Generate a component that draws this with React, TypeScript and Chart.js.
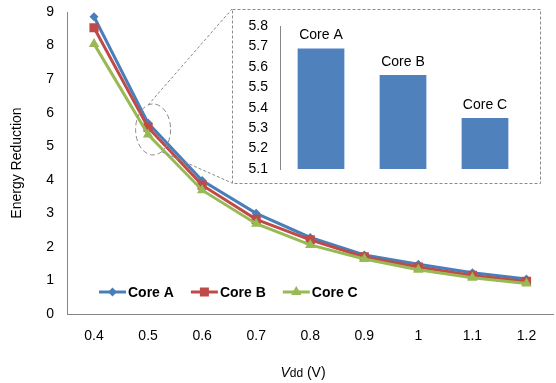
import React, { useEffect, useRef } from 'react';
import { Chart, registerables } from 'chart.js';

Chart.register(...registerables);

const vddLabels = ['0.4', '0.5', '0.6', '0.7', '0.8', '0.9', '1', '1.1', '1.2'];
const coreA = [8.86, 5.69, 3.98, 3.0, 2.28, 1.76, 1.48, 1.23, 1.04];
const coreB = [8.53, 5.56, 3.84, 2.82, 2.21, 1.7, 1.4, 1.15, 0.97];
const coreC = [8.05, 5.35, 3.69, 2.69, 2.06, 1.64, 1.32, 1.08, 0.91];
const seriesNames = ['Core A', 'Core B', 'Core C'];
const insetCategories = ['Core A', 'Core B', 'Core C'];
const insetValues = [5.69, 5.56, 5.35];

const FONT = "'Liberation Sans', Arial, sans-serif";
const COLORS = ['#4A7EBB', '#BE4B48', '#98B954'];
const AXIS = '#868686';
const BOX = { x: 232, y: 9, w: 308, h: 174 };

function drawMarker(ctx: CanvasRenderingContext2D, kind: number, x: number, y: number, color: string) {
  ctx.save();
  ctx.fillStyle = color;
  ctx.beginPath();
  if (kind === 0) {
    const r = 4.5;
    ctx.moveTo(x, y - r);
    ctx.lineTo(x + r, y);
    ctx.lineTo(x, y + r);
    ctx.lineTo(x - r, y);
  } else if (kind === 1) {
    const s = 4.5;
    ctx.rect(x - s, y - s, 2 * s, 2 * s);
  } else {
    const r = 6;
    ctx.moveTo(x, y - r);
    ctx.lineTo(x + r * 0.866, y + r * 0.5);
    ctx.lineTo(x - r * 0.866, y + r * 0.5);
  }
  ctx.closePath();
  ctx.fill();
  ctx.restore();
}

const mainDecor = {
  id: 'mainDecor',
  afterDatasetsDraw(chart: any) {
    const ctx: CanvasRenderingContext2D = chart.ctx;
    const xs = chart.scales.x;
    const ys = chart.scales.y;
    const area = chart.chartArea;
    const cx = xs.getPixelForValue(1) + 5;
    const cy = ys.getPixelForValue(5.5);
    const rx = 17.5, ry = 25.5;
    ctx.save();
    ctx.strokeStyle = '#8a8a8a';
    ctx.lineWidth = 1;
    ctx.setLineDash([5, 3]);
    ctx.beginPath();
    ctx.ellipse(cx, cy, rx, ry, 0, 0, Math.PI * 2);
    ctx.stroke();
    ctx.setLineDash([3, 2]);
    ctx.beginPath();
    ctx.moveTo(cx - 5, cy - ry + 1);
    ctx.lineTo(BOX.x, BOX.y);
    ctx.moveTo(cx + 9, cy + ry - 3);
    ctx.lineTo(BOX.x, BOX.y + BOX.h);
    ctx.stroke();
    ctx.setLineDash([]);
    ctx.fillStyle = '#ffffff';
    ctx.fillRect(BOX.x, BOX.y, BOX.w, BOX.h);
    ctx.setLineDash([3, 2]);
    ctx.strokeStyle = '#8a8a8a';
    ctx.strokeRect(BOX.x + 0.5, BOX.y + 0.5, BOX.w, BOX.h);
    ctx.restore();

    ctx.save();
    ctx.font = `bold 14px ${FONT}`;
    ctx.textBaseline = 'middle';
    ctx.textAlign = 'left';
    let lx = area.left + 32;
    const ly = area.bottom - 22;
    seriesNames.forEach((name, i) => {
      ctx.strokeStyle = COLORS[i];
      ctx.lineWidth = 3;
      ctx.beginPath();
      ctx.moveTo(lx, ly);
      ctx.lineTo(lx + 27, ly);
      ctx.stroke();
      drawMarker(ctx, i, lx + 13.5, ly, COLORS[i]);
      ctx.fillStyle = '#000';
      ctx.fillText(name, lx + 29, ly + 1);
      lx += 29 + ctx.measureText(name).width + 17;
    });
    ctx.restore();
  },
  afterDraw(chart: any) {
    const ctx: CanvasRenderingContext2D = chart.ctx;
    const area = chart.chartArea;
    ctx.save();
    ctx.fillStyle = '#000';
    ctx.font = `14px ${FONT}`;
    ctx.textAlign = 'center';
    ctx.textBaseline = 'middle';
    ctx.translate(17, (area.top + area.bottom) / 2);
    ctx.rotate(-Math.PI / 2);
    ctx.fillText('Energy Reduction', 0, 0);
    ctx.restore();
    ctx.save();
    ctx.fillStyle = '#000';
    ctx.textBaseline = 'alphabetic';
    ctx.textAlign = 'left';
    const parts = [
      { t: 'V', f: `italic 14px ${FONT}` },
      { t: 'dd', f: `12px ${FONT}` },
      { t: ' (V)', f: `14px ${FONT}` },
    ];
    let total = 0;
    parts.forEach((p) => { ctx.font = p.f; total += ctx.measureText(p.t).width; });
    let x = 303 - total / 2;
    const y = 377;
    parts.forEach((p) => { ctx.font = p.f; ctx.fillText(p.t, x, y); x += ctx.measureText(p.t).width; });
    ctx.restore();
  },
};

const insetLabels = {
  id: 'insetLabels',
  afterDatasetsDraw(chart: any) {
    const ctx: CanvasRenderingContext2D = chart.ctx;
    const meta = chart.getDatasetMeta(0);
    ctx.save();
    ctx.font = `14px ${FONT}`;
    ctx.fillStyle = '#000';
    ctx.textAlign = 'center';
    ctx.textBaseline = 'middle';
    meta.data.forEach((bar: any, i: number) => {
      ctx.fillText(insetCategories[i], bar.x, bar.y - 13);
    });
    ctx.restore();
  },
};

export default function App() {
  const mainRef = useRef<HTMLCanvasElement>(null);
  const insetRef = useRef<HTMLCanvasElement>(null);

  useEffect(() => {
    const tickFont = { family: FONT, size: 14 };
    const mk = (label: string, data: number[], i: number, style: string, radius: number, order: number) => ({
      label,
      data,
      borderColor: COLORS[i],
      backgroundColor: COLORS[i],
      pointBackgroundColor: COLORS[i],
      pointBorderColor: COLORS[i],
      pointBorderWidth: 0,
      pointStyle: style,
      pointRadius: radius,
      borderWidth: 3,
      tension: 0,
      order,
    });
    const main = new Chart(mainRef.current!, {
      type: 'line',
      data: {
        labels: vddLabels,
        datasets: [
          mk(seriesNames[0], coreA, 0, 'rectRot', 4.5, 2),
          mk(seriesNames[1], coreB, 1, 'rect', 6.5, 1),
          mk(seriesNames[2], coreC, 2, 'triangle', 6, 0),
        ],
      },
      options: {
        responsive: false,
        animation: false,
        devicePixelRatio: 1,
        layout: { padding: { top: 12, left: 0, right: 0, bottom: 0 } },
        plugins: { legend: { display: false }, tooltip: { enabled: false } },
        scales: {
          x: {
            type: 'category',
            offset: true,
            grid: { display: false, drawTicks: false },
            border: { display: true, color: AXIS, width: 1 },
            ticks: { font: tickFont, color: '#000', padding: 14, maxRotation: 0, autoSkip: false },
            afterFit: (s: any) => { s.height = 69; s.paddingLeft = 0; s.paddingRight = 0; },
          },
          y: {
            min: 0,
            max: 9,
            grid: { display: false, drawTicks: false },
            border: { display: true, color: AXIS, width: 1 },
            ticks: { stepSize: 1, font: tickFont, color: '#000', padding: 13 },
            afterFit: (s: any) => { s.width = 67; s.paddingTop = 0; s.paddingBottom = 0; },
          },
        },
      } as any,
      plugins: [mainDecor],
    });

    const inset = new Chart(insetRef.current!, {
      type: 'bar',
      data: {
        labels: insetCategories,
        datasets: [
          {
            data: insetValues,
            backgroundColor: '#4F81BD',
            barPercentage: 0.57,
            categoryPercentage: 1,
          },
        ],
      },
      options: {
        responsive: false,
        animation: false,
        devicePixelRatio: 1,
        layout: { padding: { top: 17, right: 14, bottom: 14, left: 0 } },
        plugins: { legend: { display: false }, tooltip: { enabled: false } },
        scales: {
          x: { display: false, offset: true },
          y: {
            min: 5.1,
            max: 5.8,
            grid: { display: false, drawTicks: false },
            border: { display: true, color: AXIS, width: 1 },
            ticks: {
              stepSize: 0.1,
              font: tickFont,
              color: '#000',
              padding: 12,
              callback: (v: any) => Number(v).toFixed(1),
            },
            afterFit: (s: any) => { s.width = 48; s.paddingTop = 0; s.paddingBottom = 0; },
          },
        },
      } as any,
      plugins: [insetLabels],
    });

    return () => {
      main.destroy();
      inset.destroy();
    };
  }, []);

  return (
    <div style={{ position: 'fixed', left: 0, top: 0, width: 556, height: 383, overflow: 'hidden', background: '#fff' }}>
      <canvas ref={mainRef} width={560} height={383} style={{ position: 'absolute', left: 0, top: 0, width: 560, height: 383 }} />
      <canvas
        ref={insetRef}
        width={BOX.w}
        height={BOX.h}
        style={{ position: 'absolute', left: BOX.x, top: BOX.y, width: BOX.w, height: BOX.h }}
      />
    </div>
  );
}
